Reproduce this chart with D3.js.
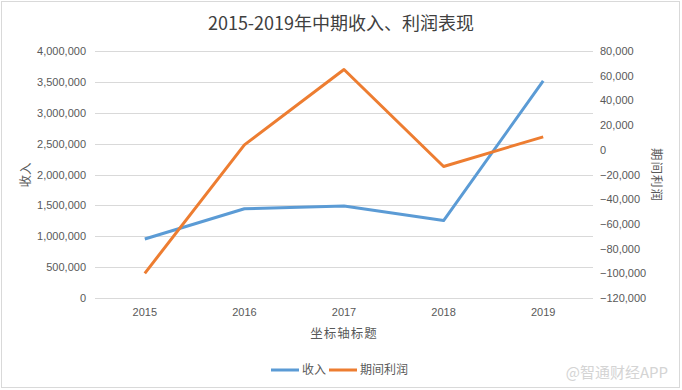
<!DOCTYPE html>
<html>
<head>
<meta charset="utf-8">
<script src="https://cdn.jsdelivr.net/npm/d3@7"></script>
<style>
body { margin: 0; background: #fff; }
text { font-family: "Liberation Sans", sans-serif; }
.cjk { font-family: "Noto Sans CJK SC", sans-serif; }
</style>
</head>
<body>
<svg id="chart" width="682" height="390"></svg>
<script>
var years = ["2015", "2016", "2017", "2018", "2019"];
var revenue = [955000, 1445000, 1490000, 1255000, 3515000];
var profit = [-100000, 4000, 65000, -13500, 10500];
var leftTicks = [0, 500000, 1000000, 1500000, 2000000, 2500000, 3000000, 3500000, 4000000];
var rightTicks = [-120000, -100000, -80000, -60000, -40000, -20000, 0, 20000, 40000, 60000, 80000];
var seriesNames = ["收入", "期间利润"];
var colors = ["#5B9BD5", "#ED7D31"];

var svg = d3.select("svg#chart");
var margin = {top: 51, right: 89, bottom: 92, left: 95};
var width = 682 - margin.left - margin.right;
var height = 390 - margin.top - margin.bottom;

// chart border
svg.append("rect")
	.attr("x", 1.5).attr("y", 1.5)
	.attr("width", 678).attr("height", 386)
	.attr("fill", "#fff")
	.attr("stroke", "#d9d9d9");

var x = d3.scaleBand().domain(years).range([0, width]);
var yL = d3.scaleLinear().domain([0, 4000000]).range([height, 0]);
var yR = d3.scaleLinear().domain([-120000, 80000]).range([height, 0]);

var g = svg.append("g")
	.attr("transform", "translate(" + margin.left + "," + margin.top + ")");

// gridlines
g.append("g").selectAll("line")
	.data(leftTicks)
	.enter()
	.append("line")
	.attr("x1", 0).attr("x2", width)
	.attr("y1", function(d){ return Math.round(yL(d)) + 0.5; })
	.attr("y2", function(d){ return Math.round(yL(d)) + 0.5; })
	.attr("stroke", "#d9d9d9");

var fmt = d3.format(",");

var leftAxis = g.append("g")
	.call(d3.axisLeft(yL).tickValues(leftTicks).tickFormat(fmt).tickSize(0).tickPadding(9));
leftAxis.select(".domain").remove();
leftAxis.selectAll("text").style("font-size", "11px").style("fill", "#595959").style("font-family", "Liberation Sans");

var rightAxis = g.append("g")
	.attr("transform", "translate(" + width + ",0)")
	.call(d3.axisRight(yR).tickValues(rightTicks).tickFormat(fmt).tickSize(0).tickPadding(7));
rightAxis.select(".domain").remove();
rightAxis.selectAll("text").style("font-size", "11px").style("fill", "#595959").style("font-family", "Liberation Sans");

var bottomAxis = g.append("g")
	.attr("transform", "translate(0," + height + ")")
	.call(d3.axisBottom(x).tickSize(0).tickPadding(10));
bottomAxis.select(".domain").remove();
bottomAxis.selectAll("text").style("font-size", "11px").style("fill", "#595959").style("font-family", "Liberation Sans");

var cx = function(d, i){ return x(years[i]) + x.bandwidth() / 2; };

var line1 = d3.line().x(cx).y(function(d){ return yL(d); });
var line2 = d3.line().x(cx).y(function(d){ return yR(d); });

g.append("path")
	.datum(revenue)
	.attr("d", line1)
	.attr("fill", "none")
	.attr("stroke", colors[0])
	.attr("stroke-width", 3)
	.attr("stroke-linejoin", "round");

g.append("path")
	.datum(profit)
	.attr("d", line2)
	.attr("fill", "none")
	.attr("stroke", colors[1])
	.attr("stroke-width", 3)
	.attr("stroke-linejoin", "round");

// title
svg.append("text")
	.attr("class", "cjk")
	.attr("x", 341).attr("y", 30)
	.attr("text-anchor", "middle")
	.style("font-size", "18px")
	.style("fill", "#404040")
	.text("2015-2019年中期收入、利润表现");

// axis titles
svg.append("text")
	.attr("class", "cjk")
	.attr("transform", "translate(30,175) rotate(-90)")
	.attr("text-anchor", "middle")
	.style("font-size", "12.5px")
	.style("fill", "#595959")
	.text("收入");

svg.append("text")
	.attr("class", "cjk")
	.attr("transform", "translate(652,175) rotate(90)")
	.attr("text-anchor", "middle")
	.style("font-size", "12.5px")
	.style("letter-spacing", "1px")
	.style("fill", "#595959")
	.text("期间利润");

svg.append("text")
	.attr("class", "cjk")
	.attr("x", 344).attr("y", 338)
	.attr("text-anchor", "middle")
	.style("font-size", "12.5px")
	.style("letter-spacing", "1px")
	.style("fill", "#595959")
	.text("坐标轴标题");

// legend
var legendX = [271, 329];
var legend = svg.append("g").selectAll("g")
	.data(seriesNames)
	.enter()
	.append("g")
	.attr("transform", function(d, i){ return "translate(" + legendX[i] + ",370)"; });
legend.append("line")
	.attr("x1", 0).attr("x2", 28)
	.attr("stroke", function(d, i){ return colors[i]; })
	.attr("stroke-width", 3);
legend.append("text")
	.attr("class", "cjk")
	.attr("x", 31).attr("dy", "0.36em")
	.style("font-size", "12px")
	.style("fill", "#595959")
	.text(function(d){ return d; });

// watermark
svg.append("text")
	.attr("class", "cjk")
	.attr("x", 668).attr("y", 378)
	.attr("text-anchor", "end")
	.style("font-size", "15px")
	.style("fill", "#d4d4d4")
	.text("@智通财经APP");
</script>
</body>
</html>
